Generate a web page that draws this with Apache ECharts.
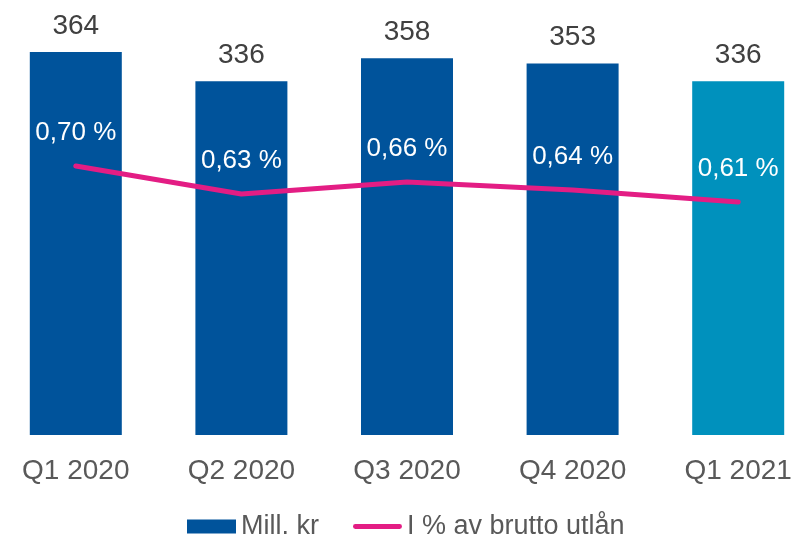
<!DOCTYPE html>
<html>
<head>
<meta charset="utf-8">
<script src="https://cdn.jsdelivr.net/npm/echarts@6/dist/echarts.min.js"></script>
<style>
  html, body { margin: 0; padding: 0; background: #fff; overflow: hidden; }
  #chart { width: 828px; height: 541px; margin-left: -7px; }
</style>
</head>
<body>
<div id="chart"></div>
<script>
const categories = ['Q1 2020', 'Q2 2020', 'Q3 2020', 'Q4 2020', 'Q1 2021'];
const millKr = [364, 336, 358, 353, 336];
const pctOfLoans = [0.70, 0.63, 0.66, 0.64, 0.61];

const FONT = '"Liberation Sans", Arial, sans-serif';
const BLUE = '#00539B';
const TEAL = '#0091BD';
const PINK = '#E31D84';

// chart div is shifted 7px left so the first category band starts off-screen, like the original
const chart = echarts.init(document.getElementById('chart'));

chart.setOption({
    animation: false,
    grid: {left: 0, right: 0, top: 14, bottom: 106},
    legend: {
        left: 194,
        top: 513,
        padding: 0,
        itemGap: 34,
        itemWidth: 49,
        itemHeight: 14,
        textStyle: {fontFamily: FONT, fontSize: 27, color: '#595959'},
        data: [
            {name: 'Mill. kr', icon: 'rect'},
            {name: 'I % av brutto utlån', icon: 'path://M2.5,0 H48.5 A2.5,2.5 0 0 1 48.5,5 H2.5 A2.5,2.5 0 0 1 2.5,0 Z'}
        ]
    },
    xAxis: {
        type: 'category',
        data: categories,
        axisLine: {show: false},
        axisTick: {show: false},
        axisLabel: {fontFamily: FONT, fontSize: 28, color: '#595959', margin: 22}
    },
    yAxis: [
        {type: 'value', min: 0, max: 400, show: false},
        {type: 'value', min: 0.0275, max: 1.08, show: false}
    ],
    series: [
        {
            name: 'Mill. kr',
            type: 'bar',
            barWidth: 92,
            itemStyle: {color: BLUE},
            data: millKr.map((v, i) => ({
                value: v,
                itemStyle: {color: i === millKr.length - 1 ? TEAL : BLUE}
            })),
            label: {
                show: true,
                position: 'top',
                distance: 12,
                fontFamily: FONT,
                fontSize: 28,
                color: '#404040'
            }
        },
        {
            name: 'I % av brutto utlån',
            type: 'line',
            yAxisIndex: 1,
            data: pctOfLoans,
            symbol: 'circle',
            symbolSize: 1,
            showSymbol: true,
            itemStyle: {color: PINK},
            lineStyle: {color: PINK, width: 5, cap: 'round'},
            label: {
                show: true,
                position: 'top',
                distance: 20,
                fontFamily: FONT,
                fontSize: 26,
                color: '#ffffff',
                formatter: p => p.value.toFixed(2).replace('.', ',') + ' %'
            }
        }
    ]
});
</script>
</body>
</html>
